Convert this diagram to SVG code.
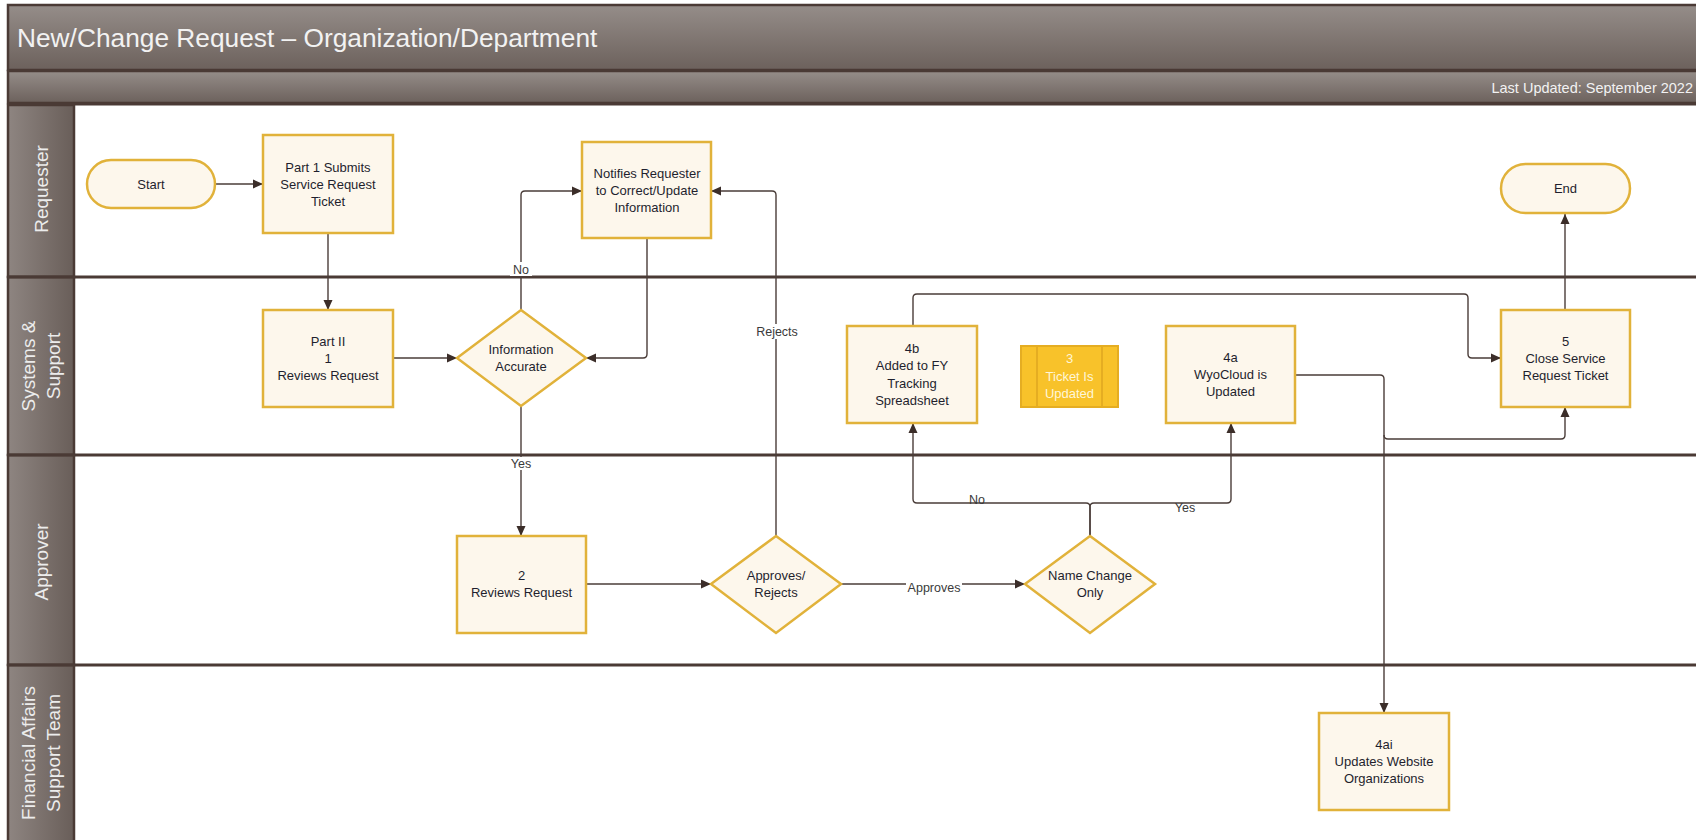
<svg xmlns="http://www.w3.org/2000/svg" width="1696" height="840" viewBox="0 0 1696 840">
  <defs>
    <linearGradient id="barV" x1="0" y1="0" x2="0" y2="1">
      <stop offset="0" stop-color="#958d89"/>
      <stop offset="1" stop-color="#6c615c"/>
    </linearGradient>
    <linearGradient id="hdrH" x1="0" y1="0" x2="1" y2="0">
      <stop offset="0" stop-color="#8e8581"/>
      <stop offset="1" stop-color="#695e59"/>
    </linearGradient>
    <marker id="arr" markerUnits="userSpaceOnUse" markerWidth="11" markerHeight="10" refX="10" refY="5" orient="auto">
      <path d="M0,0.5 L10,5 L0,9.5 z" fill="#3b2d29"/>
    </marker>
    <style>
      .bar { fill: url(#barV); stroke: #4a3a35; stroke-width: 2.5; }
      .hdr { fill: url(#hdrH); stroke: #4a3a35; stroke-width: 2.5; }
      .lane-line { stroke: #4a3a35; stroke-width: 3; fill: none; }
      .title { font-family: "Liberation Sans", Arial, sans-serif; font-size: 26.3px; fill: #f2f2f2; }
      .upd { font-family: "Liberation Sans", Arial, sans-serif; font-size: 14.5px; fill: #f2f2f2; text-anchor: end; }
      .lane-t { font-family: "Liberation Sans", Arial, sans-serif; font-size: 19px; fill: #ececec; text-anchor: middle; }
      .box { fill: #fdf7ec; stroke: #e1b23a; stroke-width: 2.5; }
      .proc { fill: #f8c22a; stroke: #e5ad22; stroke-width: 2; }
      .t { font-family: "Liberation Sans", Arial, sans-serif; font-size: 13px; fill: #1f1f2e; text-anchor: middle; }
      .tw { font-family: "Liberation Sans", Arial, sans-serif; font-size: 13px; fill: #fff6d8; text-anchor: middle; }
      .conn { fill: none; stroke: #4a3d39; stroke-width: 1.4; }
      .lbl { font-family: "Liberation Sans", Arial, sans-serif; font-size: 12.5px; fill: #3a3a3a; text-anchor: middle; }
      .lblbg { fill: #ffffff; }
    </style>
  </defs>

  <rect x="0" y="0" width="1696" height="840" fill="#ffffff"/>

  <g id="header">
    <rect class="bar" x="8" y="5" width="1700" height="65"/>
    <text class="title" x="17" y="47">New/Change Request – Organization/Department</text>
    <rect class="bar" x="8" y="71" width="1700" height="32"/>
    <text class="upd" x="1693" y="93">Last Updated: September 2022</text>
  </g>

  <g id="lanes">
    <rect class="hdr" x="8" y="105" width="66" height="172"/>
    <rect class="hdr" x="8" y="277" width="66" height="178"/>
    <rect class="hdr" x="8" y="455" width="66" height="210"/>
    <rect class="hdr" x="8" y="665" width="66" height="180"/>
    <line class="lane-line" x1="8" y1="104" x2="1696" y2="104"/>
    <line class="lane-line" x1="8" y1="277" x2="1696" y2="277"/>
    <line class="lane-line" x1="8" y1="455" x2="1696" y2="455"/>
    <line class="lane-line" x1="8" y1="665" x2="1696" y2="665"/>
    <text class="lane-t" transform="translate(48,189) rotate(-90)">Requester</text>
    <text class="lane-t" transform="translate(35,366) rotate(-90)">Systems &amp;</text>
    <text class="lane-t" transform="translate(60,366) rotate(-90)">Support</text>
    <text class="lane-t" transform="translate(48,562) rotate(-90)">Approver</text>
    <text class="lane-t" transform="translate(35,753) rotate(-90)">Financial Affairs</text>
    <text class="lane-t" transform="translate(60,753) rotate(-90)">Support Team</text>
  </g>

  <g id="connectors">
    <path class="conn" d="M215,184 H263" marker-end="url(#arr)"/>
    <path class="conn" d="M328,233 V310" marker-end="url(#arr)"/>
    <path class="conn" d="M393,358 H457" marker-end="url(#arr)"/>
    <path class="conn" d="M521,310 V195 Q521,191 525,191 H582" marker-end="url(#arr)"/>
    <path class="conn" d="M647,238 V354 Q647,358 643,358 H586" marker-end="url(#arr)"/>
    <path class="conn" d="M521,406 V536" marker-end="url(#arr)"/>
    <path class="conn" d="M586,584 H711" marker-end="url(#arr)"/>
    <path class="conn" d="M776,536 V195 Q776,191 772,191 H711" marker-end="url(#arr)"/>
    <path class="conn" d="M841,584 H1025" marker-end="url(#arr)"/>
    <path class="conn" d="M1090,536 V507 Q1090,503 1086,503 H917 Q913,503 913,499 V423" marker-end="url(#arr)"/>
    <path class="conn" d="M1090,536 V507 Q1090,503 1094,503 H1227 Q1231,503 1231,499 V423" marker-end="url(#arr)"/>
    <path class="conn" d="M913,326 V298 Q913,294 917,294 H1464 Q1468,294 1468,298 V354 Q1468,358 1472,358 H1501" marker-end="url(#arr)"/>
    <path class="conn" d="M1295,375 H1380 Q1384,375 1384,379 V713" marker-end="url(#arr)"/>
    <path class="conn" d="M1384,435 Q1384,439 1388,439 H1561 Q1565,439 1565,435 V407" marker-end="url(#arr)"/>
    <path class="conn" d="M1565,310 V214" marker-end="url(#arr)"/>

    <rect class="lblbg" x="510" y="262" width="22" height="14"/>
    <text class="lbl" x="521" y="274">No</text>
    <rect class="lblbg" x="508" y="457" width="26" height="13"/>
    <text class="lbl" x="521" y="468">Yes</text>
    <rect class="lblbg" x="754" y="324" width="46" height="15"/>
    <text class="lbl" x="777" y="336">Rejects</text>
    <rect class="lblbg" x="906" y="580" width="56" height="15"/>
    <text class="lbl" x="934" y="592">Approves</text>
    <text class="lbl" x="977" y="504">No</text>
    <text class="lbl" x="1185" y="512">Yes</text>
  </g>

  <g id="start">
    <rect class="box" x="87" y="160" width="128" height="48" rx="24" ry="24"/>
    <text class="t" x="151" y="188.5">Start</text>
  </g>

  <g id="submit">
    <rect class="box" x="263" y="135" width="130" height="98"/>
    <text class="t" x="328" y="171.5">Part 1 Submits</text>
    <text class="t" x="328" y="188.5">Service Request</text>
    <text class="t" x="328" y="205.5">Ticket</text>
  </g>

  <g id="notify">
    <rect class="box" x="582" y="142" width="129" height="96"/>
    <text class="t" x="647" y="177.5">Notifies Requester</text>
    <text class="t" x="647" y="194.5">to Correct/Update</text>
    <text class="t" x="647" y="211.5">Information</text>
  </g>

  <g id="end">
    <rect class="box" x="1501" y="164" width="129" height="49" rx="24.5" ry="24.5"/>
    <text class="t" x="1565.5" y="193">End</text>
  </g>

  <g id="review1">
    <rect class="box" x="263" y="310" width="130" height="97"/>
    <text class="t" x="328" y="345.5">Part II</text>
    <text class="t" x="328" y="362.5">1</text>
    <text class="t" x="328" y="379.5">Reviews Request</text>
  </g>

  <g id="accurate">
    <polygon class="box" points="521,310 586,358 521,406 457,358"/>
    <text class="t" x="521" y="354">Information</text>
    <text class="t" x="521" y="371">Accurate</text>
  </g>

  <g id="tracking">
    <rect class="box" x="847" y="326" width="130" height="97"/>
    <text class="t" x="912" y="353">4b</text>
    <text class="t" x="912" y="370.3">Added to FY</text>
    <text class="t" x="912" y="387.6">Tracking</text>
    <text class="t" x="912" y="404.9">Spreadsheet</text>
  </g>

  <g id="ticket">
    <rect class="proc" x="1021" y="346" width="97" height="61"/>
    <line x1="1037" y1="346" x2="1037" y2="407" stroke="#e5ad22" stroke-width="2"/>
    <line x1="1102" y1="346" x2="1102" y2="407" stroke="#e5ad22" stroke-width="2"/>
    <text class="tw" x="1069.5" y="363">3</text>
    <text class="tw" x="1069.5" y="380.5">Ticket Is</text>
    <text class="tw" x="1069.5" y="398">Updated</text>
  </g>

  <g id="wyocloud">
    <rect class="box" x="1166" y="326" width="129" height="97"/>
    <text class="t" x="1230.5" y="362">4a</text>
    <text class="t" x="1230.5" y="379">WyoCloud is</text>
    <text class="t" x="1230.5" y="396">Updated</text>
  </g>

  <g id="close">
    <rect class="box" x="1501" y="310" width="129" height="97"/>
    <text class="t" x="1565.5" y="345.5">5</text>
    <text class="t" x="1565.5" y="362.5">Close Service</text>
    <text class="t" x="1565.5" y="379.5">Request Ticket</text>
  </g>

  <g id="review2">
    <rect class="box" x="457" y="536" width="129" height="97"/>
    <text class="t" x="521.5" y="580">2</text>
    <text class="t" x="521.5" y="597">Reviews Request</text>
  </g>

  <g id="approves">
    <polygon class="box" points="776,536 841,584 776,633 711,584"/>
    <text class="t" x="776" y="580">Approves/</text>
    <text class="t" x="776" y="597">Rejects</text>
  </g>

  <g id="namechange">
    <polygon class="box" points="1090,536 1155,584 1090,633 1025,584"/>
    <text class="t" x="1090" y="580">Name Change</text>
    <text class="t" x="1090" y="597">Only</text>
  </g>

  <g id="website">
    <rect class="box" x="1319" y="713" width="130" height="97"/>
    <text class="t" x="1384" y="748.5">4ai</text>
    <text class="t" x="1384" y="765.5">Updates Website</text>
    <text class="t" x="1384" y="782.5">Organizations</text>
  </g>
</svg>
